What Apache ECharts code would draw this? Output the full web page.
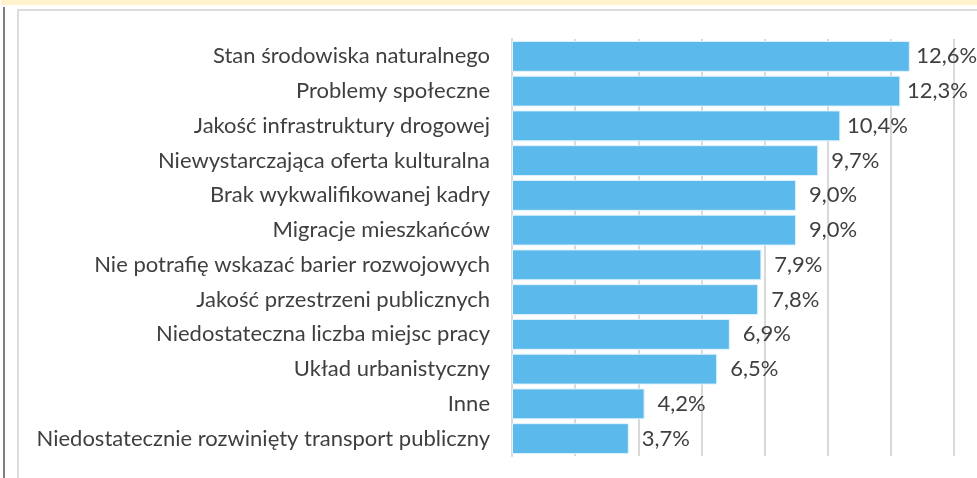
<!DOCTYPE html>
<html>
<head>
<meta charset="utf-8">
<script src="https://cdn.jsdelivr.net/npm/echarts@6/dist/echarts.min.js"></script>
<style>
  html, body { margin: 0; padding: 0; background: #fff; }
  .topBand { position: absolute; left: 1px; top: 0; width: 976px; height: 5px; background: #fff2cc; }
  .sideBar { position: absolute; left: 3px; top: 7px; width: 2px; height: 471px; background: #7f7f7f; }
  .panel { position: absolute; left: 17px; top: 9px; width: 960px; height: 469px;
           border-left: 2px solid #dcdcdc; border-top: 2px solid #dcdcdc; box-sizing: border-box; }
  #chart { position: absolute; left: 0; top: 0; width: 977px; height: 478px; }
</style>
</head>
<body>
<div class="topBand"></div>
<div class="sideBar"></div>
<div class="panel"></div>
<div id="chart"></div>
<script>
// bariery rozwoju - kategorie i udzial procentowy
const categories = [
  'Stan środowiska naturalnego',
  'Problemy społeczne',
  'Jakość infrastruktury drogowej',
  'Niewystarczająca oferta kulturalna',
  'Brak wykwalifikowanej kadry',
  'Migracje mieszkańców',
  'Nie potrafię wskazać barier rozwojowych',
  'Jakość przestrzeni publicznych',
  'Niedostateczna liczba miejsc pracy',
  'Układ urbanistyczny',
  'Inne',
  'Niedostatecznie rozwinięty transport publiczny'
];
const values = [12.6, 12.3, 10.4, 9.7, 9.0, 9.0, 7.9, 7.8, 6.9, 6.5, 4.2, 3.7];

let myChart = echarts.init(document.getElementById('chart'));
let option = {
  animation: false,
  grid: {
    left: 512,
    right: 23,
    top: 39,
    bottom: 22
  },
  xAxis: {
    type: 'value',
    min: 0,
    max: 14,
    interval: 2,
    axisLabel: { show: false },
    axisLine: { show: false },
    axisTick: { show: false },
    splitLine: {
      lineStyle: { color: '#d9d9d9', width: 2 }
    }
  },
  yAxis: {
    type: 'category',
    inverse: true,
    data: categories,
    axisTick: { show: false },
    axisLine: {
      lineStyle: { color: '#d9d9d9', width: 2 }
    },
    axisLabel: {
      color: '#3f3f3f',
      fontFamily: 'Lato',
      fontSize: 22,
      margin: 22
    }
  },
  series: [
    {
      type: 'bar',
      data: values,
      barCategoryGap: '11%',
      itemStyle: {
        color: '#5bbaeb',
        borderColor: '#e3f3fc',
        borderWidth: 1
      },
      label: {
        show: true,
        position: 'right',
        distance: 37,
        align: 'center',
        color: '#3f3f3f',
        fontFamily: 'Lato',
        fontSize: 22,
        formatter: p => p.value.toFixed(1).replace('.', ',') + '%'
      }
    }
  ]
};
myChart.setOption(option);
</script>
</body>
</html>
